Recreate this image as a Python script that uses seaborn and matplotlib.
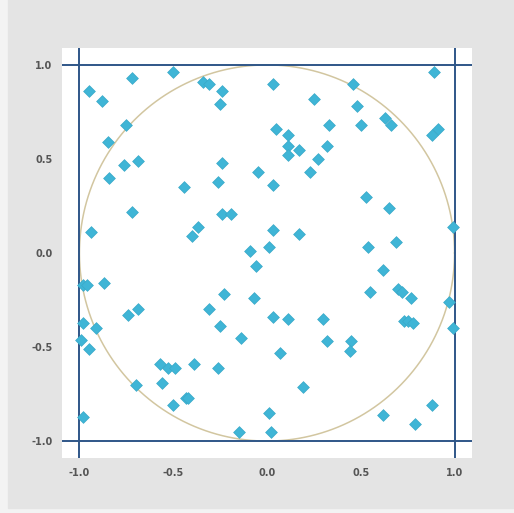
import numpy as np
import pandas as pd
import matplotlib
matplotlib.use("Agg")
import matplotlib.pyplot as plt
import seaborn as sns

# random points in the square [-1, 1] x [-1, 1]
x_vals = [-0.95, -0.88, -0.72, -0.50, -0.34, -0.31, -0.24, -0.25, -0.75, -0.85,
          -0.76, -0.69, -0.24, -0.84, -0.26, -0.44, -0.72, -0.24, -0.19, -0.37,
          -0.40, -0.94, -0.05, -0.09, 0.03, 0.46, 0.89, 0.25, 0.48, 0.63,
          0.66, 0.05, 0.33, 0.50, 0.11, 0.11, 0.11, 0.17, 0.32, 0.91,
          0.88, 0.27, 0.23, 0.03, 0.53, 0.65, 0.99, 0.03, 0.17, 0.01,
          0.54, 0.69, -0.98, -0.96, -0.87, -0.98, -0.91, -0.99, -0.95, -0.74,
          -0.69, -0.70, -0.98, -0.57, -0.53, -0.49, -0.39, -0.56, -0.50, -0.43,
          -0.42, -0.31, -0.23, -0.25, -0.14, -0.26, -0.15, -0.06, -0.07, 0.62,
          0.55, 0.70, 0.72, 0.77, 0.97, 0.03, 0.11, 0.30, 0.73, 0.75,
          0.78, 0.99, 0.32, 0.45, 0.44, 0.07, 0.19, 0.88, 0.62, 0.79,
          0.01, 0.02]
y_vals = [0.86, 0.81, 0.93, 0.96, 0.91, 0.90, 0.86, 0.79, 0.68, 0.59,
          0.47, 0.49, 0.48, 0.40, 0.38, 0.35, 0.22, 0.21, 0.21, 0.14,
          0.09, 0.11, 0.43, 0.01, 0.90, 0.90, 0.96, 0.82, 0.78, 0.72,
          0.68, 0.66, 0.68, 0.68, 0.63, 0.57, 0.52, 0.55, 0.57, 0.66,
          0.63, 0.50, 0.43, 0.36, 0.30, 0.24, 0.14, 0.12, 0.10, 0.03,
          0.03, 0.06, -0.17, -0.17, -0.16, -0.37, -0.40, -0.46, -0.51, -0.33,
          -0.30, -0.70, -0.87, -0.59, -0.61, -0.61, -0.59, -0.69, -0.81, -0.77,
          -0.77, -0.30, -0.22, -0.39, -0.45, -0.61, -0.95, -0.07, -0.24, -0.09,
          -0.21, -0.19, -0.21, -0.24, -0.26, -0.34, -0.35, -0.35, -0.36, -0.36,
          -0.37, -0.40, -0.47, -0.47, -0.52, -0.53, -0.71, -0.81, -0.86, -0.91,
          -0.85, -0.95]
ticks = [-1.0, -0.5, 0.0, 0.5, 1.0]

df = pd.DataFrame({"x": x_vals, "y": y_vals})

plt.rcParams["axes.unicode_minus"] = False

fig = plt.figure(figsize=(5.14, 5.13), dpi=100, facecolor="#f3f3f3")
# grey panel behind the plot (screenshot look)
fig.patches.append(plt.Rectangle((8 / 514, 5 / 513), 1, 1, transform=fig.transFigure,
                                 color="#e4e4e4", zorder=-1))
ax = fig.add_axes([62 / 514, 55 / 513, 410 / 514, 410 / 513])
ax.set_zorder(1)
ax.set_facecolor("white")

sns.scatterplot(data=df, x="x", y="y", marker="D", s=36, color="#3fb5d6",
                edgecolor="#3aa9c8", linewidth=0.5, ax=ax, zorder=3)

# unit circle
theta = np.linspace(0, 2 * np.pi, 400)
ax.plot(np.cos(theta), np.sin(theta), color="#d2c6a0", lw=1.1, zorder=2)

for v in (-1, 1):
    ax.axhline(v, color="#2f5688", lw=1.4, zorder=2)
    ax.axvline(v, color="#2f5688", lw=1.4, zorder=2)

ax.set_xlim(-1.093, 1.093)
ax.set_ylim(-1.09, 1.09)
ax.set_xticks(ticks)
ax.set_yticks(ticks)
ax.tick_params(length=0, pad=7, labelsize=7, labelcolor="#555555")
for lab in ax.get_xticklabels() + ax.get_yticklabels():
    lab.set_fontweight("bold")
ax.set_xlabel("")
ax.set_ylabel("")
for sp in ax.spines.values():
    sp.set_visible(False)

fig.savefig("out.png", dpi=100, facecolor=fig.get_facecolor())
